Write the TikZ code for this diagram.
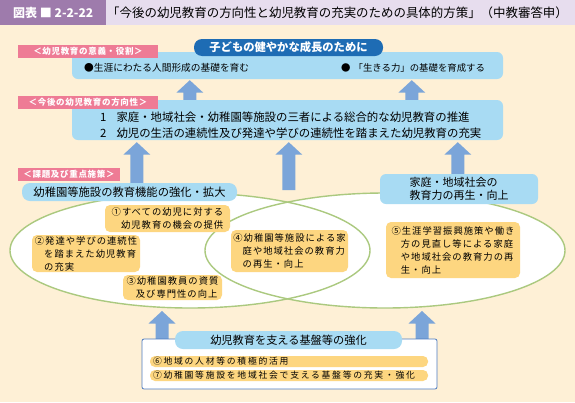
\documentclass[tikz,border=0pt]{standalone}
\usepackage{fontspec}
\setmainfont{Noto Sans CJK JP}
\newfontfamily\jpsp[LetterSpace=11]{Noto Sans CJK JP}
\newfontfamily\jpbar[LetterSpace=20]{Noto Sans CJK JP}
\newfontfamily\jplab[LetterSpace=8]{Noto Sans CJK JP}
\usetikzlibrary{calc}
\definecolor{cream}{HTML}{FEF0D6}
\definecolor{titledark}{HTML}{9E7BAC}
\definecolor{titlelight}{HTML}{E7DDEE}
\definecolor{darkblue}{HTML}{1E6CB4}
\definecolor{lightblue}{HTML}{A8DBF3}
\definecolor{pinklab}{HTML}{EE7B95}
\definecolor{arrowblue}{HTML}{7BA5D9}
\definecolor{yel}{HTML}{FDD680}
\definecolor{ellgreen}{HTML}{ABC97F}
\definecolor{boxborder}{HTML}{4D7BBF}
\newcommand{\blockup}[2]{%
  \fill[arrowblue] let \p1=(#1), \p2=(#2) in
    (\x1-6.5pt,\y1) -- (\x1-6.5pt,\y2-12.5pt) -- (\x1-13.5pt,\y2-12.5pt) --
    (\x1,\y2) -- (\x1+13.5pt,\y2-12.5pt) -- (\x1+6.5pt,\y2-12.5pt) --
    (\x1+6.5pt,\y1) -- cycle;}
\tikzset{
  lbox/.style={fill=lightblue, rounded corners=6pt, inner sep=0pt},
  pinklabel/.style={fill=pinklab, text=white, inner sep=0pt,
    font=\jplab\bfseries\fontsize{8.5}{10}\selectfont},
  yelbox/.style={fill=yel, rounded corners=5pt, inner sep=0pt, align=left,
    font=\jpsp\fontsize{9.3}{13}\selectfont},
  yelbar/.style={fill=yel, rounded corners=5pt, inner sep=0pt, align=left,
    text width=272pt, font=\jpbar\fontsize{8.8}{10}\selectfont},
  plain/.style={inner sep=0pt}
}
\begin{document}
\begin{tikzpicture}[x=1pt,y=-1pt]
\useasboundingbox (0,0) rectangle (575,402);
\fill[cream] (0,0) rectangle (575,402);
\fill[titlelight] (0,0) rectangle (575,25);
\node[fill=titledark, text=white, minimum width=106, minimum height=25,
  anchor=north west, inner sep=0pt, font=\bfseries\fontsize{12}{14}\selectfont]
  (tag) at (0,0) {図表 ■ 2-2-22};
\node[plain, anchor=west, font=\fontsize{12.45}{14}\selectfont] (title) at (107,12.5)
  {「今後の幼児教育の方向性と幼児教育の充実のための具体的方策」（中教審答申）};

% boxes (positions first, for arrows)
\node[lbox, minimum width=431, minimum height=27] (meaning) at (287.5,65.5) {};
\node[lbox, minimum width=431, minimum height=40] (dir) at (287.5,120) {};

% arrows behind
\blockup{$(dir.north west)+(118,0)$}{$(meaning.south west)+(118,1)$}
\blockup{$(dir.north west)+(340,0)$}{$(meaning.south west)+(340,1)$}
\blockup{$(dir.south west)+(65,45)$}{$(dir.south west)+(65,2)$}
\blockup{$(dir.south west)+(217,50)$}{$(dir.south west)+(217,2)$}
\blockup{$(dir.south west)+(386,36)$}{$(dir.south west)+(386,2)$}

% ellipses
\fill[white] (190,250.5) ellipse [x radius=180, y radius=57.5];
\fill[white] (385,250.5) ellipse [x radius=180, y radius=57.5];
\draw[ellgreen, line width=1.4pt] (190,250.5) ellipse [x radius=180, y radius=57.5];
\draw[ellgreen, line width=1.4pt] (385,250.5) ellipse [x radius=180, y radius=57.5];

% bottom arrows
\coordinate (b1s) at (162,345);
\coordinate (b1e) at (162,311);
\coordinate (b2s) at (422,345);
\coordinate (b2e) at (422,311);
\blockup{b1s}{b1e}
\blockup{b2s}{b2e}

% top texts
\node[fill=darkblue, rounded corners=8pt, minimum width=189, minimum height=17,
  text=white, inner sep=0pt, font=\bfseries\fontsize{11.3}{13}\selectfont]
  (goal) at (288.5,47.5) {子どもの健やかな成長のために};
\node[pinklabel, minimum width=140, minimum height=13] (lab1) at (88,51.5) {＜幼児教育の意義・役割＞};
\node[plain, anchor=west, font=\fontsize{9.7}{11}\selectfont] (m1) at (84,68)
  {●生涯にわたる人間形成の基礎を育む};
\node[plain, anchor=west, font=\fontsize{9.4}{11}\selectfont] (m2) at (341,68)
  {●\hspace{3pt}「生きる力」の基礎を育成する};

\node[pinklabel, minimum width=140, minimum height=13] (lab2) at (88,102) {＜今後の幼児教育の方向性＞};
\node[plain, anchor=west, align=left, font=\fontsize{11.4}{16.5}\selectfont] (dirtext) at (100,125)
  {1\hspace{10pt}家庭・地域社会・幼稚園等施設の三者による総合的な幼児教育の推進\\
   2\hspace{10pt}幼児の生活の連続性及び発達や学びの連続性を踏まえた幼児教育の充実};

% policies
\node[pinklabel, minimum width=102, minimum height=13] (lab3) at (69,174.5) {＜課題及び重点施策＞};
\node[lbox, rounded corners=8pt, minimum width=215, minimum height=18,
  font=\fontsize{11.3}{13}\selectfont] (kinder) at (129.5,192) {幼稚園等施設の教育機能の強化・拡大};
\node[lbox, minimum width=158, minimum height=30, align=left,
  font=\fontsize{11}{13}\selectfont] (family) at (459,189) {家庭・地域社会の\\教育力の再生・向上};

\node[yelbox, minimum width=125, minimum height=27] (p1) at (167.5,218.5)
  {①すべての幼児に対する\\\hspace*{1em}幼児教育の機会の提供};
\node[yelbox, minimum width=108, minimum height=37] (p2) at (86,253.5)
  {②発達や学びの連続性\\\hspace*{1em}を踏まえた幼児教育\\\hspace*{1em}の充実};
\node[yelbox, minimum width=99, minimum height=25] (p3) at (172.5,287.5)
  {③幼稚園教員の資質\\\hspace*{1em}及び専門性の向上};
\node[yelbox, minimum width=117, minimum height=42] (p4) at (289.5,251)
  {④幼稚園等施設による家\\\hspace*{1em}庭や地域社会の教育力\\\hspace*{1em}の再生・向上};
\node[yelbox, minimum width=134, minimum height=56] (p5) at (453,250)
  {⑤生涯学習振興施策や働き\\\hspace*{1em}方の見直し等による家庭\\\hspace*{1em}や地域社会の教育力の再\\\hspace*{1em}生・向上};

% base
\node[fill=white, draw=boxborder, line width=0.8pt, rounded corners=2pt,
  minimum width=295, minimum height=50, inner sep=0pt] (base) at (289.5,364) {};
\node[lbox, rounded corners=8pt, minimum width=227, minimum height=18,
  font=\fontsize{11.2}{13}\selectfont] (baselab) at (288.5,340) {幼児教育を支える基盤等の強化};
\node[yelbar, minimum width=278, minimum height=11] (p6) at (289,361.5) {⑥地域の人材等の積極的活用};
\node[yelbar, minimum width=278, minimum height=11] (p7) at (289,375.5) {⑦幼稚園等施設を地域社会で支える基盤等の充実・強化};
\end{tikzpicture}
\end{document}
